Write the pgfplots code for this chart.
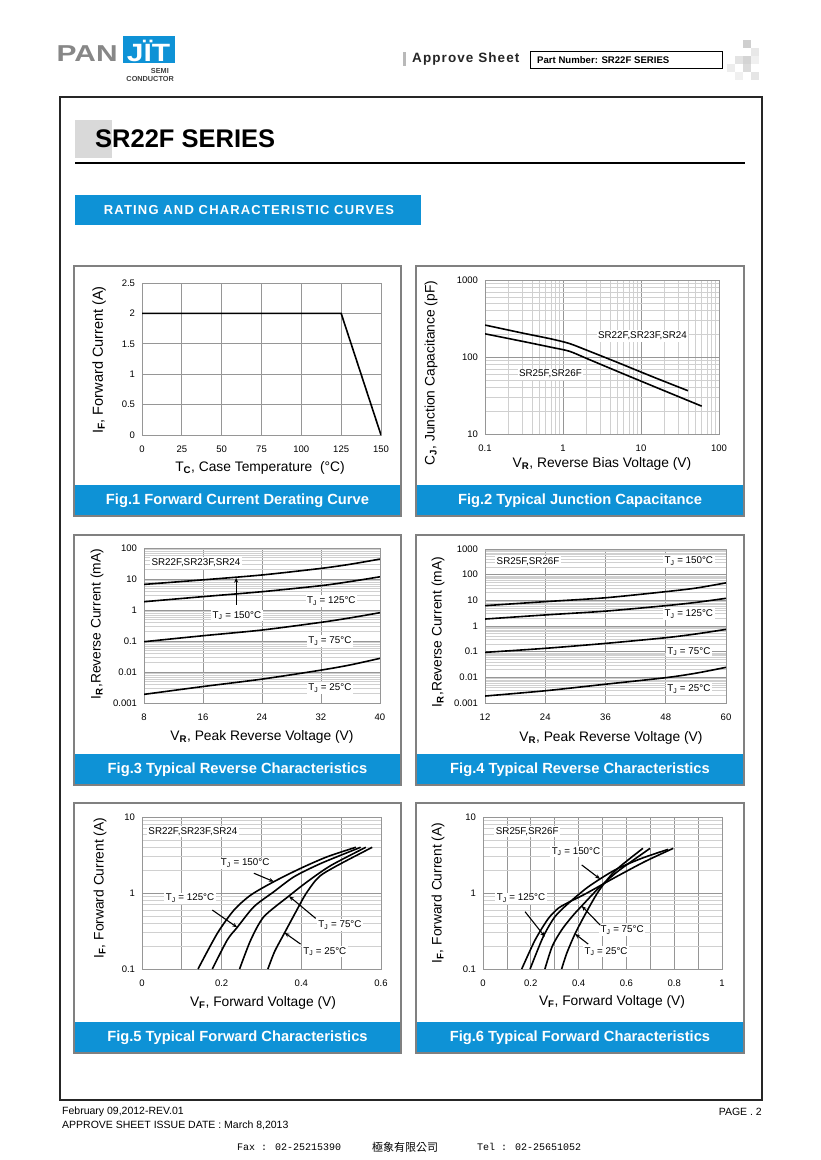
\documentclass[border=0pt]{standalone}
\usepackage{fontspec}
\setmainfont{Liberation Sans}
\newfontfamily\monof{Liberation Mono}
\newfontfamily\cjk{Noto Sans CJK TC}
\newfontfamily\spaced[LetterSpace=8]{Liberation Sans}
\newfontfamily\wide[LetterSpace=9]{Liberation Sans}
\usepackage{pgfplots}
\pgfplotsset{compat=1.18}
\usetikzlibrary{arrows.meta}
\definecolor{pjblue}{RGB}{14,146,214}
\definecolor{framegray}{RGB}{128,128,128}
\definecolor{gridc}{RGB}{150,150,150}
\definecolor{gridm}{RGB}{208,208,208}
\newcommand{\fs}[1]{\fontsize{#1}{#1}\selectfont}
\newcommand{\sub}[1]{\textsubscript{\textbf{#1}}}

\pgfplotsset{
  ds/.style={
    scale only axis, anchor=south west,
    axis line style={draw=gridc, line width=0.8pt},
    major tick length=0pt, minor tick length=0pt,
    tick label style={font=\fs{9.5}, text=black},
    xticklabel style={yshift=-7pt},
    yticklabel style={xshift=-3.5pt},
    major grid style={draw=gridc, line width=0.7pt},
    minor grid style={draw=gridm, line width=0.6pt},
    /pgf/number format/assume math mode=true,
  },
  crv/.style={black, line width=1.6pt, smooth, tension=0.45, no marks},
}
\tikzset{
  tlab/.style={fill=white, inner sep=1.5pt, font=\fs{9.8}},
  arr/.style={-{Stealth[length=5pt,width=4pt]}, line width=1.1pt, black},
  alab/.style={font=\fs{13.8}, inner sep=0pt},
}
\newcommand{\panel}[5]{%
  \fill[pjblue] (#1,#4-31) rectangle (#3,#4);
  \draw[framegray, line width=1.5pt] (#1,#2) rectangle (#3,#4);
  \node[text=white, font=\bfseries\fs{14.7}] at ({(#1+#3)/2},#4-15.5) {#5};}

\begin{document}
\begin{tikzpicture}[x=1pt,y=-1pt]
\fill[white] (0,0) rectangle (820,1160);
\path[use as bounding box] (0,0) rectangle (820,1160);

% ---- header
\node[anchor=base west, inner sep=0, text={rgb,255:red,135;green,135;blue,135}, font=\bfseries\fs{23}] at (56.5,61.7) {\scalebox{1.3}[1]{PAN}};
\fill[pjblue] (123,36) rectangle (174.5,62.5);
\node[anchor=base, inner sep=0, text=white, font=\bfseries\fs{25}] at (148.5,61.5) {\scalebox{1.2}[1]{JÏT}};
\node[anchor=east, inner sep=0, text=darkgray, font=\bfseries\fs{7.3}] at (169,71) {SEMI};
\node[anchor=east, inner sep=0, text=darkgray, font=\bfseries\fs{7.3}] at (174,78.5) {CONDUCTOR};
\fill[gray!55] (403,52) rectangle (406,66);
\node[anchor=west, inner sep=0, font=\spaced\bfseries\fs{13.5}, text=black!85] at (412,59) {Approve Sheet};
\draw[line width=0.8pt] (530,51) rectangle (722,68);
\node[anchor=west, inner sep=0, font=\bfseries\fs{9.6}] at (537,60) {Part Number: SR22F SERIES};
\foreach \cx/\cy/\g in {743/40/38, 751/48/18, 735/56/22, 743/56/34, 751/56/12, 727/64/14, 743/64/28, 751/72/20, 735/72/12}
  \fill[gray!\g] (\cx,\cy) rectangle ++(8,8);

% ---- frame and title
\draw[line width=1.3pt, black!85] (60,97) rectangle (762,1100);
\fill[gray!30] (75,120) rectangle (112,158);
\node[anchor=base west, inner sep=0, font=\bfseries\fs{25.5}] at (95,147) {SR22F SERIES};
\draw[line width=1.2pt] (75,163) -- (745,163);
\fill[pjblue] (75,195) rectangle (421,225);
\node[text=white, font=\wide\bfseries\fs{13}] at (249,210) {RATING AND CHARACTERISTIC CURVES};

% ---- panels
\panel{74}{266}{401}{516}{Fig.1 Forward Current Derating Curve}
\panel{416}{266}{744}{516}{Fig.2 Typical Junction Capacitance}
\panel{74}{535}{401}{785}{Fig.3 Typical Reverse Characteristics}
\panel{416}{535}{744}{785}{Fig.4 Typical Reverse Characteristics}
\panel{74}{803}{401}{1053}{Fig.5 Typical Forward Characteristics}
\panel{416}{803}{744}{1053}{Fig.6 Typical Forward Characteristics}

% ---- Fig.1
\begin{axis}[ds, at={(142pt,-435pt)}, width=239pt, height=152pt,
  xmin=0, xmax=150, ymin=0, ymax=2.5,
  xtick={0,25,50,75,100,125,150}, ytick={0,0.5,1,1.5,2,2.5}, grid=major]
\addplot[black, line width=1.6pt] coordinates {(0,2) (125,2) (150,0)};
\end{axis}
\node[alab, rotate=90, font=\fs{14.5}] at (99,360) {I\sub{F}, Forward Current (A)};
\node[alab] at (260,468) {T\sub{C}, Case Temperature\ \ (°C)};

% ---- Fig.2
\begin{axis}[ds, at={(485pt,-434pt)}, width=234pt, height=154pt,
  xmode=log, ymode=log, xmin=0.1, xmax=100, ymin=10, ymax=1000,
  xtick={0.1,1,10,100}, xticklabels={0.1,1,10,100},
  ytick={10,100,1000}, yticklabels={10,100,1000},
  minor xtick={0.2,0.3,0.4,0.5,0.6,0.7,0.8,0.9,2,3,4,5,6,7,8,9,20,30,40,50,60,70,80,90},
  minor ytick={20,30,40,50,60,70,80,90,200,300,400,500,600,700,800,900},
  grid=both]
\addplot[crv] coordinates {(0.1,260) (0.3,205) (0.7,172) (1.2,150) (2,123) (5,85) (15,54) (40,36.5)};
\addplot[crv] coordinates {(0.1,200) (0.3,160) (0.7,134) (1.2,119) (2,96) (5,65) (15,41) (60,23)};
\node[tlab] at (axis cs:10.45,187.5) {SR22F,SR23F,SR24};
\node[tlab] at (axis cs:0.69,60) {SR25F,SR26F};
\end{axis}
\node[alab, rotate=90] at (431,373) {C\sub{J}, Junction Capacitance (pF)};
\node[alab] at (602,464) {V\sub{R}, Reverse Bias Voltage (V)};

% ---- Fig.3
\begin{axis}[ds, at={(144pt,-703pt)}, width=236pt, height=155pt,
  xmin=8, xmax=40, xtick={8,16,24,32,40},
  ymode=log, ymin=0.001, ymax=100,
  ytick={0.001,0.01,0.1,1,10,100}, yticklabels={0.001,0.01,0.1,1,10,100},
  minor ytick={0.002,0.003,0.004,0.005,0.006,0.007,0.008,0.009,0.02,0.03,0.04,0.05,0.06,0.07,0.08,0.09,0.2,0.3,0.4,0.5,0.6,0.7,0.8,0.9,2,3,4,5,6,7,8,9,20,30,40,50,60,70,80,90},
  xmajorgrids, ymajorgrids, yminorgrids]
\addplot[crv] coordinates {(8,6.7) (16,9.4) (24,13.5) (32,22) (36,30) (40,44)};
\addplot[crv] coordinates {(8,1.85) (16,2.7) (24,3.9) (32,6.1) (36,8.3) (40,11.8)};
\addplot[crv] coordinates {(8,0.095) (16,0.148) (24,0.226) (32,0.40) (36,0.56) (40,0.82)};
\addplot[crv] coordinates {(8,0.0019) (16,0.0034) (24,0.0059) (32,0.0115) (36,0.017) (40,0.0276)};
\node[tlab, anchor=west] at (axis cs:8.8,32.8) {SR22F,SR23F,SR24};
\node[tlab] at (axis cs:33.4,1.95) {T\textsubscript{J} = 125°C};
\node[tlab] at (axis cs:20.6,0.655) {T\textsubscript{J} = 150°C};
\node[tlab] at (axis cs:33.2,0.1) {T\textsubscript{J} = 75°C};
\node[tlab] at (axis cs:33.2,0.00305) {T\textsubscript{J} = 25°C};
\draw[arr] (axis cs:20.5,1.5) -- (axis cs:20.5,11);
\end{axis}
\node[alab, rotate=90] at (97,624) {I\sub{R},Reverse Current (mA)};
\node[alab] at (262,737) {V\sub{R}, Peak Reverse Voltage (V)};

% ---- Fig.4
\begin{axis}[ds, at={(485pt,-703pt)}, width=241pt, height=154pt,
  xmin=12, xmax=60, xtick={12,24,36,48,60},
  ymode=log, ymin=0.001, ymax=1000,
  ytick={0.001,0.01,0.1,1,10,100,1000}, yticklabels={0.001,0.01,0.1,1,10,100,1000},
  minor ytick={0.002,0.003,0.004,0.005,0.006,0.007,0.008,0.009,0.02,0.03,0.04,0.05,0.06,0.07,0.08,0.09,0.2,0.3,0.4,0.5,0.6,0.7,0.8,0.9,2,3,4,5,6,7,8,9,20,30,40,50,60,70,80,90,200,300,400,500,600,700,800,900},
  xmajorgrids, ymajorgrids, yminorgrids]
\addplot[crv] coordinates {(12,6.2) (24,8.9) (36,12.6) (48,21.8) (54,30) (60,48)};
\addplot[crv] coordinates {(12,1.87) (24,2.7) (36,3.8) (48,6.2) (54,8.3) (60,12)};
\addplot[crv] coordinates {(12,0.094) (24,0.135) (36,0.21) (48,0.35) (54,0.49) (60,0.74)};
\addplot[crv] coordinates {(12,0.00187) (24,0.003) (36,0.0054) (48,0.0097) (54,0.0145) (60,0.0245)};
\node[tlab, anchor=west] at (axis cs:14,320) {SR25F,SR26F};
\node[tlab] at (axis cs:52.6,340) {T\textsubscript{J} = 150°C};
\node[tlab] at (axis cs:52.6,2.93) {T\textsubscript{J} = 125°C};
\node[tlab] at (axis cs:52.6,0.1) {T\textsubscript{J} = 75°C};
\node[tlab] at (axis cs:52.6,0.0035) {T\textsubscript{J} = 25°C};
\end{axis}
\node[alab, rotate=90] at (438,632) {I\sub{R},Reverse Current (mA)};
\node[alab] at (611,738) {V\sub{R}, Peak Reverse Voltage (V)};

% ---- Fig.5
\begin{axis}[ds, at={(142pt,-969pt)}, width=239pt, height=152pt,
  xmin=0, xmax=0.6, xtick={0,0.2,0.4,0.6}, minor xtick={0.1,0.3,0.5},
  ymode=log, ymin=0.1, ymax=10,
  ytick={0.1,1,10}, yticklabels={0.1,1,10},
  minor ytick={0.2,0.3,0.4,0.5,0.6,0.7,0.8,0.9,2,3,4,5,6,7,8,9},
  xmajorgrids, ymajorgrids, yminorgrids,
  xminorgrids, minor x grid style={draw=gridc, line width=0.7pt}]
\addplot[crv] coordinates {(0.1406,0.1) (0.189,0.294) (0.231,0.597) (0.273,0.94) (0.331,1.41) (0.398,2.11) (0.465,3.0) (0.537,4.0)};
\addplot[crv] coordinates {(0.1766,0.1) (0.214,0.241) (0.239,0.353) (0.281,0.661) (0.331,1.04) (0.382,1.64) (0.449,2.45) (0.549,4.0)};
\addplot[crv] coordinates {(0.245,0.1) (0.273,0.241) (0.306,0.488) (0.369,0.914) (0.415,1.41) (0.474,2.3) (0.562,4.0)};
\addplot[crv] coordinates {(0.316,0.1) (0.333,0.17) (0.358,0.3) (0.385,0.55) (0.41,0.95) (0.435,1.45) (0.455,1.8) (0.5,2.45) (0.578,4.0)};
\node[tlab, anchor=west] at (axis cs:0.012,6.4) {SR22F,SR23F,SR24};
\node[tlab] at (axis cs:0.259,2.46) {T\textsubscript{J} = 150°C};
\node[tlab] at (axis cs:0.1205,0.851) {T\textsubscript{J} = 125°C};
\node[tlab] at (axis cs:0.497,0.379) {T\textsubscript{J} = 75°C};
\node[tlab] at (axis cs:0.459,0.169) {T\textsubscript{J} = 25°C};
\draw[arr] (axis cs:0.281,1.82) -- (axis cs:0.331,1.41);
\draw[arr] (axis cs:0.1765,0.597) -- (axis cs:0.239,0.353);
\draw[arr] (axis cs:0.436,0.464) -- (axis cs:0.369,0.91);
\draw[arr] (axis cs:0.398,0.213) -- (axis cs:0.358,0.3);
\end{axis}
\node[alab, rotate=90] at (100,888) {I\sub{F}, Forward Current (A)};
\node[alab] at (263,1003) {V\sub{F}, Forward Voltage (V)};

% ---- Fig.6
\begin{axis}[ds, at={(483pt,-969pt)}, width=239pt, height=152pt,
  xmin=0, xmax=1, xtick={0,0.2,0.4,0.6,0.8,1}, minor xtick={0.1,0.3,0.5,0.7,0.9},
  ymode=log, ymin=0.1, ymax=10,
  ytick={0.1,1,10}, yticklabels={0.1,1,10},
  minor ytick={0.2,0.3,0.4,0.5,0.6,0.7,0.8,0.9,2,3,4,5,6,7,8,9},
  xmajorgrids, ymajorgrids, yminorgrids,
  xminorgrids, minor x grid style={draw=gridc, line width=0.7pt}]
\addplot[crv] coordinates {(0.162,0.1) (0.218,0.241) (0.273,0.46) (0.315,0.63) (0.36,0.76) (0.43,0.98) (0.552,1.6) (0.678,2.6) (0.796,3.87)};
\addplot[crv] coordinates {(0.197,0.1) (0.252,0.266) (0.301,0.488) (0.357,0.73) (0.441,1.21) (0.552,2.01) (0.664,2.86) (0.775,3.76)};
\addplot[crv] coordinates {(0.259,0.1) (0.29,0.2) (0.33,0.33) (0.375,0.5) (0.413,0.675) (0.483,1.15) (0.566,1.95) (0.699,3.87)};
\addplot[crv] coordinates {(0.329,0.1) (0.35,0.16) (0.385,0.29) (0.427,0.52) (0.483,1.05) (0.552,1.95) (0.669,3.87)};
\node[tlab, anchor=west] at (axis cs:0.047,6.4) {SR25F,SR26F};
\node[tlab] at (axis cs:0.389,3.49) {T\textsubscript{J} = 150°C};
\node[tlab] at (axis cs:0.159,0.851) {T\textsubscript{J} = 125°C};
\node[tlab] at (axis cs:0.582,0.326) {T\textsubscript{J} = 75°C};
\node[tlab] at (axis cs:0.515,0.169) {T\textsubscript{J} = 25°C};
\draw[arr] (axis cs:0.413,2.34) -- (axis cs:0.49,1.53);
\draw[arr] (axis cs:0.176,0.567) -- (axis cs:0.259,0.266);
\draw[arr] (axis cs:0.49,0.379) -- (axis cs:0.413,0.675);
\draw[arr] (axis cs:0.44,0.213) -- (axis cs:0.385,0.29);
\end{axis}
\node[alab, rotate=90] at (438,893) {I\sub{F}, Forward Current (A)};
\node[alab] at (612,1002) {V\sub{F}, Forward Voltage (V)};

% ---- footer
\node[anchor=west, inner sep=0, font=\fs{10.5}] at (62,1112) {February 09,2012-REV.01};
\node[anchor=west, inner sep=0, font=\fs{10.5}] at (62,1125) {APPROVE SHEET ISSUE DATE : March 8,2013};
\node[anchor=east, inner sep=0, font=\fs{10.5}] at (762,1112) {PAGE . 2};
\node[anchor=west, inner sep=0, font=\monof\fs{10}] at (237,1147) {Fax : 02-25215390};
\node[anchor=west, inner sep=0, font=\cjk\fs{11}] at (372,1147) {極象有限公司};
\node[anchor=west, inner sep=0, font=\monof\fs{10}] at (477,1147) {Tel : 02-25651052};
\end{tikzpicture}
\end{document}
